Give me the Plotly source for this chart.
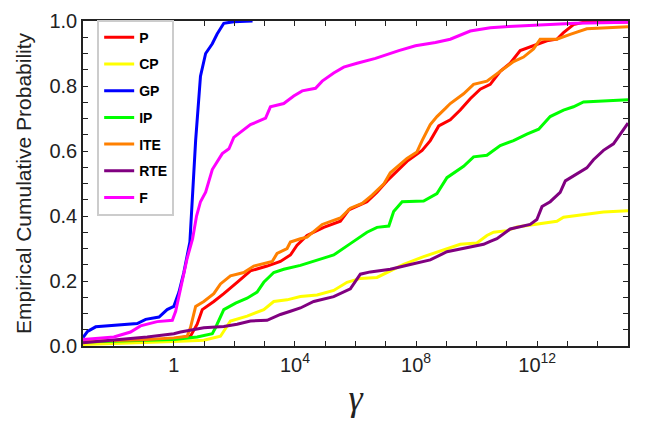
import plotly.graph_objects as go

# Empirical CDFs of gamma for each scheme.
# x values are log10(gamma); y values are cumulative probabilities.
P_LOG_GAMMA = [-3.0, -1.0, 0.0, 0.55, 0.77, 0.94, 1.32, 1.65, 2.09, 2.53, 3.08, 3.52, 3.85, 4.07,
               4.4, 4.95, 5.5, 5.78, 6.38, 6.71, 7.04, 7.37, 7.7, 8.2, 8.47, 8.75, 9.13, 9.46,
               9.79, 10.12, 10.45, 10.78, 11.11, 11.44, 11.83, 12.05, 12.32, 12.65, 12.87, 13.2,
               13.53, 15.0]
P_PROB = [0.012, 0.016, 0.022, 0.03, 0.067, 0.112, 0.137, 0.161, 0.196, 0.231, 0.246, 0.26, 0.28,
          0.31, 0.34, 0.365, 0.384, 0.419, 0.444, 0.473, 0.508, 0.538, 0.568, 0.602, 0.632, 0.677,
          0.696, 0.726, 0.761, 0.79, 0.805, 0.845, 0.87, 0.909, 0.922, 0.929, 0.939, 0.944, 0.964,
          0.989, 0.996, 0.997]

CP_LOG_GAMMA = [-3.0, -1.5, 0.0, 0.99, 1.54, 1.87, 2.42, 2.97, 3.3, 3.74, 4.18, 4.73, 5.28, 5.72,
                6.16, 6.71, 7.15, 7.59, 8.25, 8.91, 9.46, 10.01, 10.34, 10.56, 11.0, 11.33, 11.99,
                12.65, 12.87, 13.53, 14.19, 15.0]
CP_PROB = [0.005, 0.009, 0.014, 0.018, 0.03, 0.077, 0.092, 0.112, 0.137, 0.142, 0.152, 0.157,
           0.171, 0.196, 0.208, 0.211, 0.231, 0.251, 0.275, 0.295, 0.313, 0.317, 0.34, 0.35, 0.355,
           0.366, 0.374, 0.384, 0.396, 0.404, 0.412, 0.416]

GP_LOG_GAMMA = [-3.0, -2.85, -2.58, -1.21, -0.93, -0.49, -0.22, 0.0, 0.17, 0.33, 0.53, 0.72, 0.88,
                1.05, 1.27, 1.43, 1.65, 1.98, 2.6]
GP_PROB = [0.026, 0.045, 0.059, 0.069, 0.082, 0.089, 0.112, 0.122, 0.166, 0.226, 0.32, 0.632, 0.83,
           0.90, 0.93, 0.96, 0.993, 0.998, 1.0]

IP_LOG_GAMMA = [-3.0, -1.0, 0.0, 0.77, 1.27, 1.38, 1.65, 2.04, 2.42, 2.75, 2.97, 3.3, 3.63, 4.18,
                4.62, 5.28, 5.83, 6.38, 6.71, 7.1, 7.26, 7.54, 8.25, 8.69, 9.02, 9.24, 9.57, 9.9,
                10.34, 10.78, 11.22, 11.66, 12.05, 12.43, 12.87, 13.2, 13.53, 15.0]
IP_PROB = [0.012, 0.016, 0.02, 0.028, 0.038, 0.057, 0.112, 0.132, 0.147, 0.166, 0.196, 0.226, 0.236,
           0.248, 0.26, 0.28, 0.315, 0.35, 0.365, 0.369, 0.414, 0.444, 0.446, 0.469, 0.518, 0.533,
           0.553, 0.582, 0.587, 0.617, 0.632, 0.652, 0.667, 0.706, 0.726, 0.736, 0.751, 0.758]

ITE_LOG_GAMMA = [-3.0, -1.0, 0.0, 0.44, 0.55, 0.72, 0.99, 1.32, 1.54, 1.87, 2.31, 2.64, 3.25, 3.41,
                 3.74, 3.85, 4.18, 4.4, 4.9, 5.5, 5.83, 6.22, 6.55, 6.93, 7.15, 7.48, 7.7, 8.03, 8.2,
                 8.47, 8.69, 8.97, 9.13, 9.57, 9.9, 10.34, 10.56, 10.89, 11.22, 11.55, 11.88, 12.1,
                 12.65, 13.09, 13.64, 15.0]
ITE_PROB = [0.015, 0.019, 0.025, 0.03, 0.057, 0.122, 0.137, 0.161, 0.191, 0.216, 0.226, 0.246, 0.26,
            0.285, 0.30, 0.32, 0.33, 0.335, 0.374, 0.394, 0.424, 0.439, 0.464, 0.498, 0.533, 0.558,
            0.577, 0.597, 0.632, 0.681, 0.706, 0.731, 0.746, 0.776, 0.805, 0.815, 0.83, 0.85, 0.875,
            0.889, 0.914, 0.944, 0.944, 0.959, 0.976, 0.982]

RTE_LOG_GAMMA = [-3.0, -1.98, -0.88, 0.0, 0.22, 0.99, 1.65, 2.09, 2.53, 3.08, 3.52, 3.85, 4.18, 4.62,
                 5.28, 5.83, 6.16, 6.49, 7.15, 7.81, 8.47, 9.02, 9.79, 10.23, 10.45, 10.67, 11.11,
                 11.77, 11.99, 12.16, 12.43, 12.76, 12.93, 13.31, 13.64, 13.86, 14.19, 14.52, 14.74,
                 15.0]
RTE_PROB = [0.010, 0.018, 0.028, 0.038, 0.043, 0.056, 0.06, 0.067, 0.077, 0.079, 0.097, 0.107, 0.117,
            0.137, 0.152, 0.176, 0.221, 0.228, 0.236, 0.251, 0.265, 0.29, 0.305, 0.313, 0.322, 0.33,
            0.36, 0.374, 0.389, 0.429, 0.444, 0.473, 0.508, 0.528, 0.548, 0.573, 0.602, 0.622, 0.652,
            0.686]

F_LOG_GAMMA = [-3.0, -1.98, -1.43, -1.1, -0.55, -0.05, 0.06, 0.22, 0.44, 0.62, 0.75, 0.88, 1.05,
               1.27, 1.6, 1.82, 1.98, 2.53, 3.03, 3.19, 3.63, 3.96, 4.24, 4.68, 4.9, 5.28, 5.61,
               6.05, 6.66, 7.43, 7.98, 8.64, 9.13, 9.79, 10.45, 11.06, 12.16, 13.26, 15.0]
F_PROB = [0.020, 0.028, 0.043, 0.062, 0.075, 0.079, 0.107, 0.176, 0.27, 0.33, 0.40, 0.444, 0.473,
          0.543, 0.592, 0.607, 0.642, 0.681, 0.701, 0.736, 0.746, 0.769, 0.785, 0.793, 0.815, 0.84,
          0.858, 0.87, 0.885, 0.909, 0.924, 0.934, 0.944, 0.969, 0.979, 0.983, 0.988, 0.993, 0.996]

SERIES = [
    ("P", P_LOG_GAMMA, P_PROB, "#ff0000"),
    ("CP", CP_LOG_GAMMA, CP_PROB, "#ffff00"),
    ("GP", GP_LOG_GAMMA, GP_PROB, "#0000ff"),
    ("IP", IP_LOG_GAMMA, IP_PROB, "#00ff00"),
    ("ITE", ITE_LOG_GAMMA, ITE_PROB, "#ff8000"),
    ("RTE", RTE_LOG_GAMMA, RTE_PROB, "#800080"),
    ("F", F_LOG_GAMMA, F_PROB, "#ff00ff"),
]

# Labelled ticks every fourth decade, unlabelled minor ticks at every decade
X_MAJOR_EXPONENTS = [0, 4, 8, 12]
X_MAJOR_LABELS = ["1", "10<sup>4</sup>", "10<sup>8</sup>", "10<sup>12</sup>"]
X_MINOR_EXPONENTS = [-3, -2, -1, 1, 2, 3, 5, 6, 7, 9, 10, 11, 13, 14, 15]
Y_MAJOR = [0.0, 0.2, 0.4, 0.6, 0.8, 1.0]
Y_MAJOR_LABELS = ["0.0", "0.2", "0.4", "0.6", "0.8", "1.0"]
Y_MINOR = [0.05, 0.1, 0.15, 0.25, 0.3, 0.35, 0.45, 0.5, 0.55, 0.65, 0.7, 0.75, 0.85, 0.9, 0.95]

AXIS_COLOR = "#222222"
SANS = "Liberation Sans, Arial, sans-serif"

fig = go.Figure()
for name, log_gamma, prob, color in SERIES:
    fig.add_trace(go.Scatter(
        x=[10 ** e for e in log_gamma],
        y=prob,
        mode="lines",
        name=f"<b>{name}</b>",
        legendgroup=name,
        line=dict(color=color, width=3),
    ))

tick_style = dict(ticks="inside", ticklen=5, tickwidth=1, tickcolor=AXIS_COLOR,
                  showline=True, linewidth=1.5, linecolor=AXIS_COLOR, mirror="ticks",
                  showgrid=False, zeroline=False,
                  tickfont=dict(family=SANS, size=20, color=AXIS_COLOR))

fig.update_xaxes(
    type="log",
    range=[-3, 15],
    tickmode="array",
    tickvals=[10 ** k for k in X_MAJOR_EXPONENTS],
    ticktext=X_MAJOR_LABELS,
    minor=dict(tickmode="array", tickvals=[10 ** k for k in X_MINOR_EXPONENTS],
               ticks="inside", ticklen=5, tickwidth=1, tickcolor=AXIS_COLOR, showgrid=False),
    title=dict(text="<i>γ</i>", font=dict(family="Liberation Serif, serif", size=36, color=AXIS_COLOR),
               standoff=10),
    **tick_style,
)
fig.update_yaxes(
    range=[0, 1],
    tickmode="array",
    tickvals=Y_MAJOR,
    ticktext=Y_MAJOR_LABELS,
    minor=dict(tickmode="array", tickvals=Y_MINOR,
               ticks="inside", ticklen=5, tickwidth=1, tickcolor=AXIS_COLOR, showgrid=False),
    title=dict(text="Empirical Cumulative Probability",
               font=dict(family=SANS, size=21, color=AXIS_COLOR), standoff=12),
    **tick_style,
)

fig.update_layout(
    width=645, height=421,
    margin=dict(l=83, r=17, t=10, b=75),
    paper_bgcolor="white", plot_bgcolor="white",
    legend=dict(
        x=0.026, y=1.004, xanchor="left", yanchor="top",
        bgcolor="white", bordercolor="#cccccc", borderwidth=2,
        font=dict(family=SANS, size=14, color="black"),
        tracegroupgap=5.5, itemwidth=30,
    ),
)

fig.write_html("out.html")
